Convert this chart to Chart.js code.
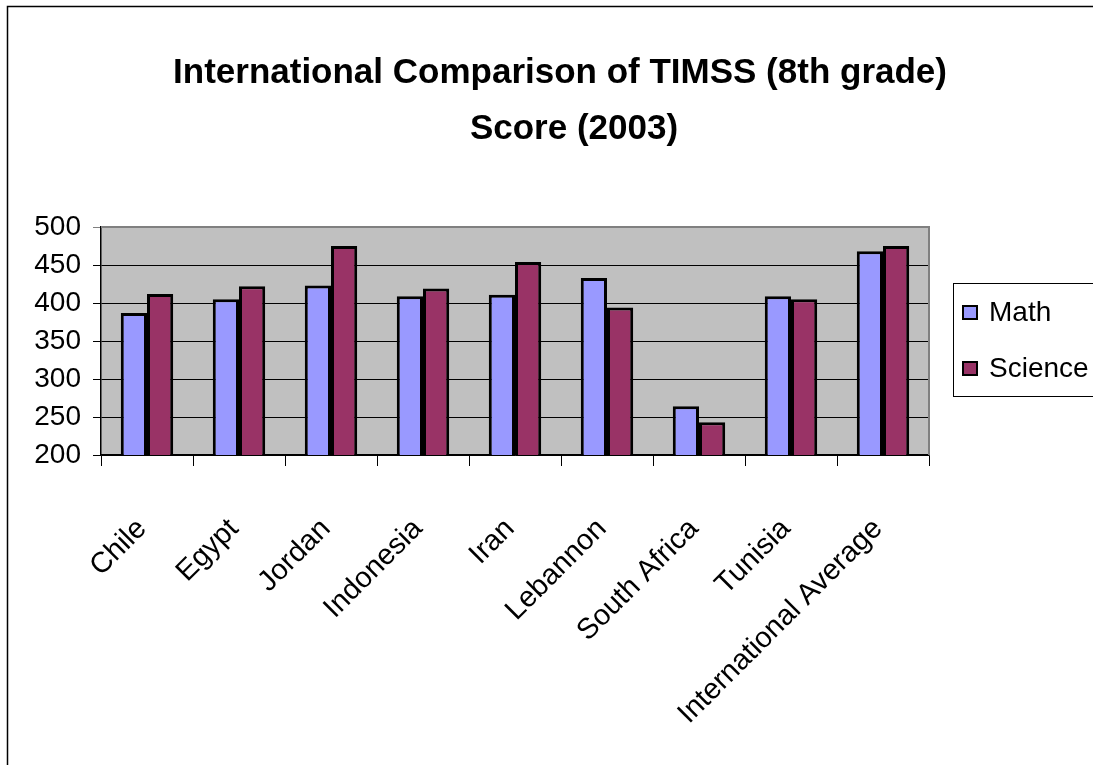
<!DOCTYPE html>
<html>
<head>
<meta charset="utf-8">
<script src="https://cdn.jsdelivr.net/npm/chart.js@4/dist/chart.umd.min.js"></script>
<style>
  html,body{margin:0;padding:0;background:#fff;}
  #wrap{width:1093px;height:765px;position:relative;}
</style>
</head>
<body>
<div id="wrap"><canvas id="timss" width="1093" height="765"></canvas></div>
<script>
// ===== data =====
const countries = ["Chile","Egypt","Jordan","Indonesia","Iran","Lebannon","South Africa","Tunisia","International Average"];
const mathScores = [387, 405, 423, 409, 411, 433, 264, 409, 468];
const scienceScores = [412, 422, 475, 419, 454, 394, 243, 405, 475];
const yTicks = [200, 250, 300, 350, 400, 450, 500];
const titleLines = ["International Comparison of TIMSS (8th grade)", "Score (2003)"];

const FONT = "'Liberation Sans', Arial, sans-serif";

// ===== background, frame, title, legend =====
const decor = {
  id: "decor",
  beforeDraw(chart){
    const {ctx, chartArea:a} = chart;
    ctx.save();
    ctx.fillStyle = "#fff";
    ctx.fillRect(0,0,chart.width,chart.height);
    // outer frame
    ctx.strokeStyle = "#000"; ctx.lineWidth = 1.5;
    ctx.strokeRect(7.5, 6.5, 3000, 3000);
    // plot area
    ctx.fillStyle = "#C0C0C0";
    ctx.fillRect(a.left, a.top, a.right-a.left, a.bottom-a.top);
    ctx.restore();
  },
  afterDraw(chart){
    const {ctx, chartArea:a} = chart;
    ctx.save();
    // grey plot border top/right
    ctx.strokeStyle = "#808080"; ctx.lineWidth = 2;
    ctx.beginPath();
    ctx.moveTo(a.left, a.top); ctx.lineTo(a.right, a.top); ctx.lineTo(a.right, a.bottom);
    ctx.stroke();

    // title
    ctx.fillStyle = "#000";
    ctx.textAlign = "center"; ctx.textBaseline = "middle";
    ctx.font = `bold 35px ${FONT}`;
    ctx.fillText(titleLines[0], 560, 73);
    ctx.fillText(titleLines[1], 574, 129);

    // legend
    ctx.strokeStyle = "#000"; ctx.lineWidth = 1;
    ctx.strokeRect(953.5, 283.5, 300, 113);
    ctx.font = `28px ${FONT}`;
    ctx.textAlign = "left";
    const rows = [312, 368];
    chart.data.datasets.forEach((ds,i)=>{
      const y = rows[i];
      ctx.fillStyle = ds.backgroundColor;
      ctx.fillRect(963, y-6, 14, 13);
      ctx.lineWidth = 2; ctx.strokeStyle = "#000";
      ctx.strokeRect(963, y-6, 14, 13);
      ctx.fillStyle = "#000";
      ctx.fillText(ds.label, 989, y+1);
    });
    ctx.restore();
  }
};

new Chart(document.getElementById("timss"), {
  type: "bar",
  data: {
    labels: countries,
    datasets: [
      {label:"Math", data: mathScores, backgroundColor:"#9999FF", borderColor:"#000", borderWidth:3, borderSkipped:false},
      {label:"Science", data: scienceScores, backgroundColor:"#993366", borderColor:"#000", borderWidth:3, borderSkipped:false}
    ]
  },
  options: {
    responsive:false, animation:false,
    layout:{padding:{top:227, right:164, left:0, bottom:0}},
    datasets:{bar:{categoryPercentage:0.57, barPercentage:1.0}},
    plugins:{legend:{display:false}, title:{display:false}, tooltip:{enabled:false}},
    scales:{
      x:{
        offset:true,
        grid:{drawOnChartArea:false, offset:true, tickLength:11, color:"#000", lineWidth:1},
        border:{color:"#000", width:1.5},
        ticks:{color:"#000", font:{family:FONT, size:29}, minRotation:45, maxRotation:45, autoSkip:false, padding:46, labelOffset:-5},
        afterFit(s){ s.height = 310; }
      },
      y:{
        min:200, max:500,
        afterBuildTicks(s){ s.ticks = yTicks.map(v=>({value:v})); },
        grid:{color:(c)=> c.tick && c.tick.value===500 ? "#808080" : "#000", lineWidth:1, tickLength:8},
        border:{color:"#000", width:1.5},
        ticks:{color:"#000", font:{family:FONT, size:28}, padding:12},
        afterFit(s){ s.width = 101; }
      }
    }
  },
  plugins:[decor]
});
</script>
</body>
</html>
